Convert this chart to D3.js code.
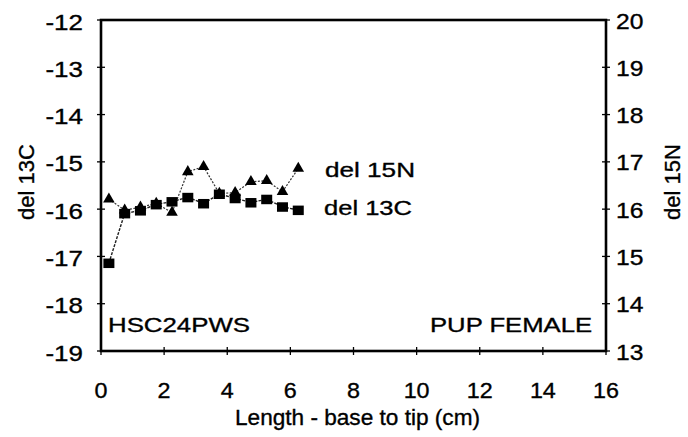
<!DOCTYPE html>
<html><head><meta charset="utf-8">
<script src="https://cdn.jsdelivr.net/npm/d3@7"></script>
<style>body{margin:0;background:#fff}svg{display:block}text{font-family:"Liberation Sans",Arial,sans-serif;fill:#000;stroke:#000;stroke-width:0.35px}</style>
</head><body><svg id="c" width="688" height="437"></svg>
<script>
const lengths = [0.25,0.75,1.25,1.75,2.25,2.75,3.25,3.75,4.25,4.75,5.25,5.75,6.25];
const del13C = [-17.14,-16.09,-16.03,-15.90,-15.84,-15.75,-15.88,-15.68,-15.77,-15.86,-15.79,-15.95,-16.02];
const del15N = [16.21,15.98,16.04,16.12,15.93,16.79,16.90,16.33,16.35,16.58,16.60,16.37,16.86];
const xTicks = [0,2,4,6,8,10,12,14,16];
const yLeftTicks = [-12,-13,-14,-15,-16,-17,-18,-19];
const yRightTicks = [20,19,18,17,16,15,14,13];

const svg = d3.select("#c");
const L=101,R=606,T=20,B=351;
const x = d3.scaleLinear().domain([0,16]).range([L,R]);
const yl = d3.scaleLinear().domain([-19,-12]).range([B,T]);
const yr = d3.scaleLinear().domain([13,20]).range([B,T]);

function txt(xp, yp, s, opts){
  const o = Object.assign({size:22, anchor:"start", k:1, w:null}, opts||{});
  const t = svg.append("text").attr("x",xp).attr("y",yp).attr("font-size",o.size)
    .attr("text-anchor",o.anchor).text(s);
  const n = t.node().getComputedTextLength();
  const w = o.w || n*o.k;
  t.attr("textLength",w).attr("lengthAdjust","spacingAndGlyphs");
  return t;
}

// frame
svg.append("rect").attr("x",L).attr("y",T).attr("width",R-L).attr("height",B-T)
  .attr("fill","none").attr("stroke","#000").attr("stroke-width",2.6);

// ticks
const g = svg.append("g").attr("stroke","#000").attr("stroke-width",1.3);
yLeftTicks.forEach(v=>g.append("line").attr("x1",L-4).attr("x2",L+4).attr("y1",yl(v)).attr("y2",yl(v)));
yRightTicks.forEach(v=>g.append("line").attr("x1",R-4).attr("x2",R+4).attr("y1",yr(v)).attr("y2",yr(v)));
xTicks.forEach(v=>g.append("line").attr("x1",x(v)).attr("x2",x(v)).attr("y1",B-4).attr("y2",B+4));

yLeftTicks.forEach(v=>txt(83, yl(v)+9.5, String(v), {anchor:"end", k:1.18}));
yRightTicks.forEach(v=>txt(616, yr(v)+8.5, String(v), {k:1.12}));
xTicks.forEach(v=>txt(x(v), 398, String(v), {anchor:"middle", k:1.06}));

txt((L+R)/2+4, 425, "Length - base to tip (cm)", {anchor:"middle", w:245});
svg.append("text").attr("transform","translate(34,182) rotate(-90)")
  .attr("text-anchor","middle").attr("font-size",22).text("del 13C");
svg.append("text").attr("transform","translate(680,182) rotate(-90)")
  .attr("text-anchor","middle").attr("font-size",22).text("del 15N");

// lines
const lineC = d3.line().x((d,i)=>x(lengths[i])).y(d=>yl(d));
const lineN = d3.line().x((d,i)=>x(lengths[i])).y(d=>yr(d));
svg.append("path").datum(del15N).attr("d",lineN).attr("fill","none").attr("stroke","#333")
  .attr("stroke-width",1.2).attr("stroke-dasharray","2,1.5");
svg.append("path").datum(del13C).attr("d",lineC).attr("fill","none").attr("stroke","#222")
  .attr("stroke-width",1.4).attr("stroke-dasharray","3,1.2");

// markers
const tri = d3.symbol().type(d3.symbolTriangle).size(58);
svg.selectAll(".t").data(del15N).join("path").attr("d",tri)
  .attr("transform",(d,i)=>`translate(${x(lengths[i])},${yr(d)})`).attr("fill","#000");
svg.selectAll(".s").data(del13C).join("rect")
  .attr("x",(d,i)=>x(lengths[i])-5.5).attr("y",d=>yl(d)-4.5).attr("width",11).attr("height",9.5).attr("fill","#000");

// labels
txt(325, 177, "del 15N", {size:21, w:90});
txt(324, 215, "del 13C", {size:21, w:88});
txt(108, 332, "HSC24PWS", {size:21, w:142});
txt(592, 332, "PUP FEMALE", {size:21, anchor:"end", w:162});
</script></body></html>
